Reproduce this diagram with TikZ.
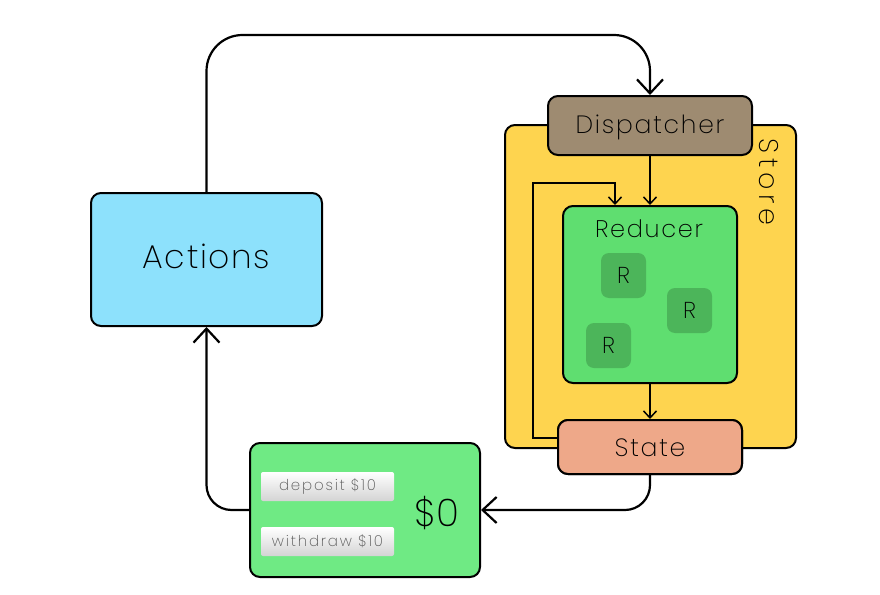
\documentclass[tikz,border=0pt]{standalone}
\usepackage{fontspec}
\setmainfont{Poppins}[UprightFont={* ExtraLight}]
\usetikzlibrary{arrows.meta,shadings}
\definecolor{actfill}{HTML}{8DE1FC}
\definecolor{storefill}{HTML}{FED44F}
\definecolor{dispfill}{HTML}{9E8B71}
\definecolor{redfill}{HTML}{5FDE70}
\definecolor{rfill}{HTML}{4CB55A}
\definecolor{statefill}{HTML}{EEA889}
\definecolor{moneyfill}{HTML}{6FEA84}
\definecolor{btntext}{HTML}{555555}
\newcommand{\fsz}[2]{\fontsize{#1}{#1}\selectfont\addfontfeatures{LetterSpace=#2}}
\tikzset{
  box/.style={draw=black, line width=2pt, rounded corners=10pt, inner sep=0pt},
  rbox/.style={fill=rfill, rounded corners=8pt, minimum width=45pt, minimum height=45pt, inner sep=0pt, font=\fsz{23}{0}},
  btn/.style={top color=white, bottom color=black!17, rounded corners=2pt, minimum width=133pt, minimum height=29pt, inner sep=0pt, text=btntext, font=\fsz{15}{12}},
  bigarrow/.style={line width=2.2pt, -{Straight Barb[length=14pt,width=26pt,line width=2.2pt]}},
  smallarrow/.style={line width=1.5pt, -{Straight Barb[length=7pt,width=13pt,line width=1.5pt]}}
}
\begin{document}
\begin{tikzpicture}[x=1pt,y=-1pt]
\useasboundingbox (0,0) rectangle (880,594);
% Store
\node[box, fill=storefill, minimum width=291pt, minimum height=323pt] (store) at (650.5,286.5) {};
\node[rotate=-90, font=\fsz{27}{18}] (storelbl) at (769,182) {Store};
% Reducer
\node[box, fill=redfill, minimum width=174pt, minimum height=177pt] (reducer) at (650,294.5) {};
\node[font=\fsz{24}{7}] (redlbl) at (649,229) {Reducer};
\node[rbox] (r1) at (623.5,275.5) {R};
\node[rbox] (r2) at (689.5,310.5) {R};
\node[rbox] (r3) at (608.5,345.5) {R};
% State
\node[box, fill=statefill, minimum width=184pt, minimum height=54pt] (state) at (650,447) {};
% inner loop
\coordinate (lp) at (533,183);
\draw[smallarrow] ([yshift=9pt]state.west) -| (lp) -| ([xshift=-35pt]reducer.north);
\node[box, fill=statefill, minimum width=184pt, minimum height=54pt] at (state) {};
\node[font=\fsz{25}{7}] (statelbl) at (650,448) {State};
% Dispatcher
\node[box, fill=dispfill, minimum width=204pt, minimum height=59pt] (disp) at (650,125.5) {};
\node[font=\fsz{25}{7}] (displbl) at (650,127) {Dispatcher};
\draw[smallarrow] (disp.south) -- (reducer.north);
\draw[smallarrow] (reducer.south) -- (state.north);
% Actions
\node[box, fill=actfill, minimum width=231pt, minimum height=133pt] (actions) at (206.5,259.5) {};
\node[font=\fsz{33}{5}] (actlbl) at (206.5,256) {Actions};
% Money box
\node[box, fill=moneyfill, minimum width=230pt, minimum height=134pt] (money) at (365,510) {};
\node[font=\fsz{38}{0}] (amount) at (437,513) {\$0};
\node[btn] (dep) at (327.5,486.5) {deposit \$10};
\node[btn] (wd) at (327.5,541.5) {withdraw \$10};
% main connectors
\coordinate (top) at (430,35);
\draw[bigarrow, rounded corners=36pt] (actions.north) |- (top) -| (disp.north);
\draw[bigarrow, rounded corners=25pt] (state.south) |- (money.east);
\draw[bigarrow, rounded corners=25pt] (money.west) -| (actions.south);
\end{tikzpicture}
\end{document}
